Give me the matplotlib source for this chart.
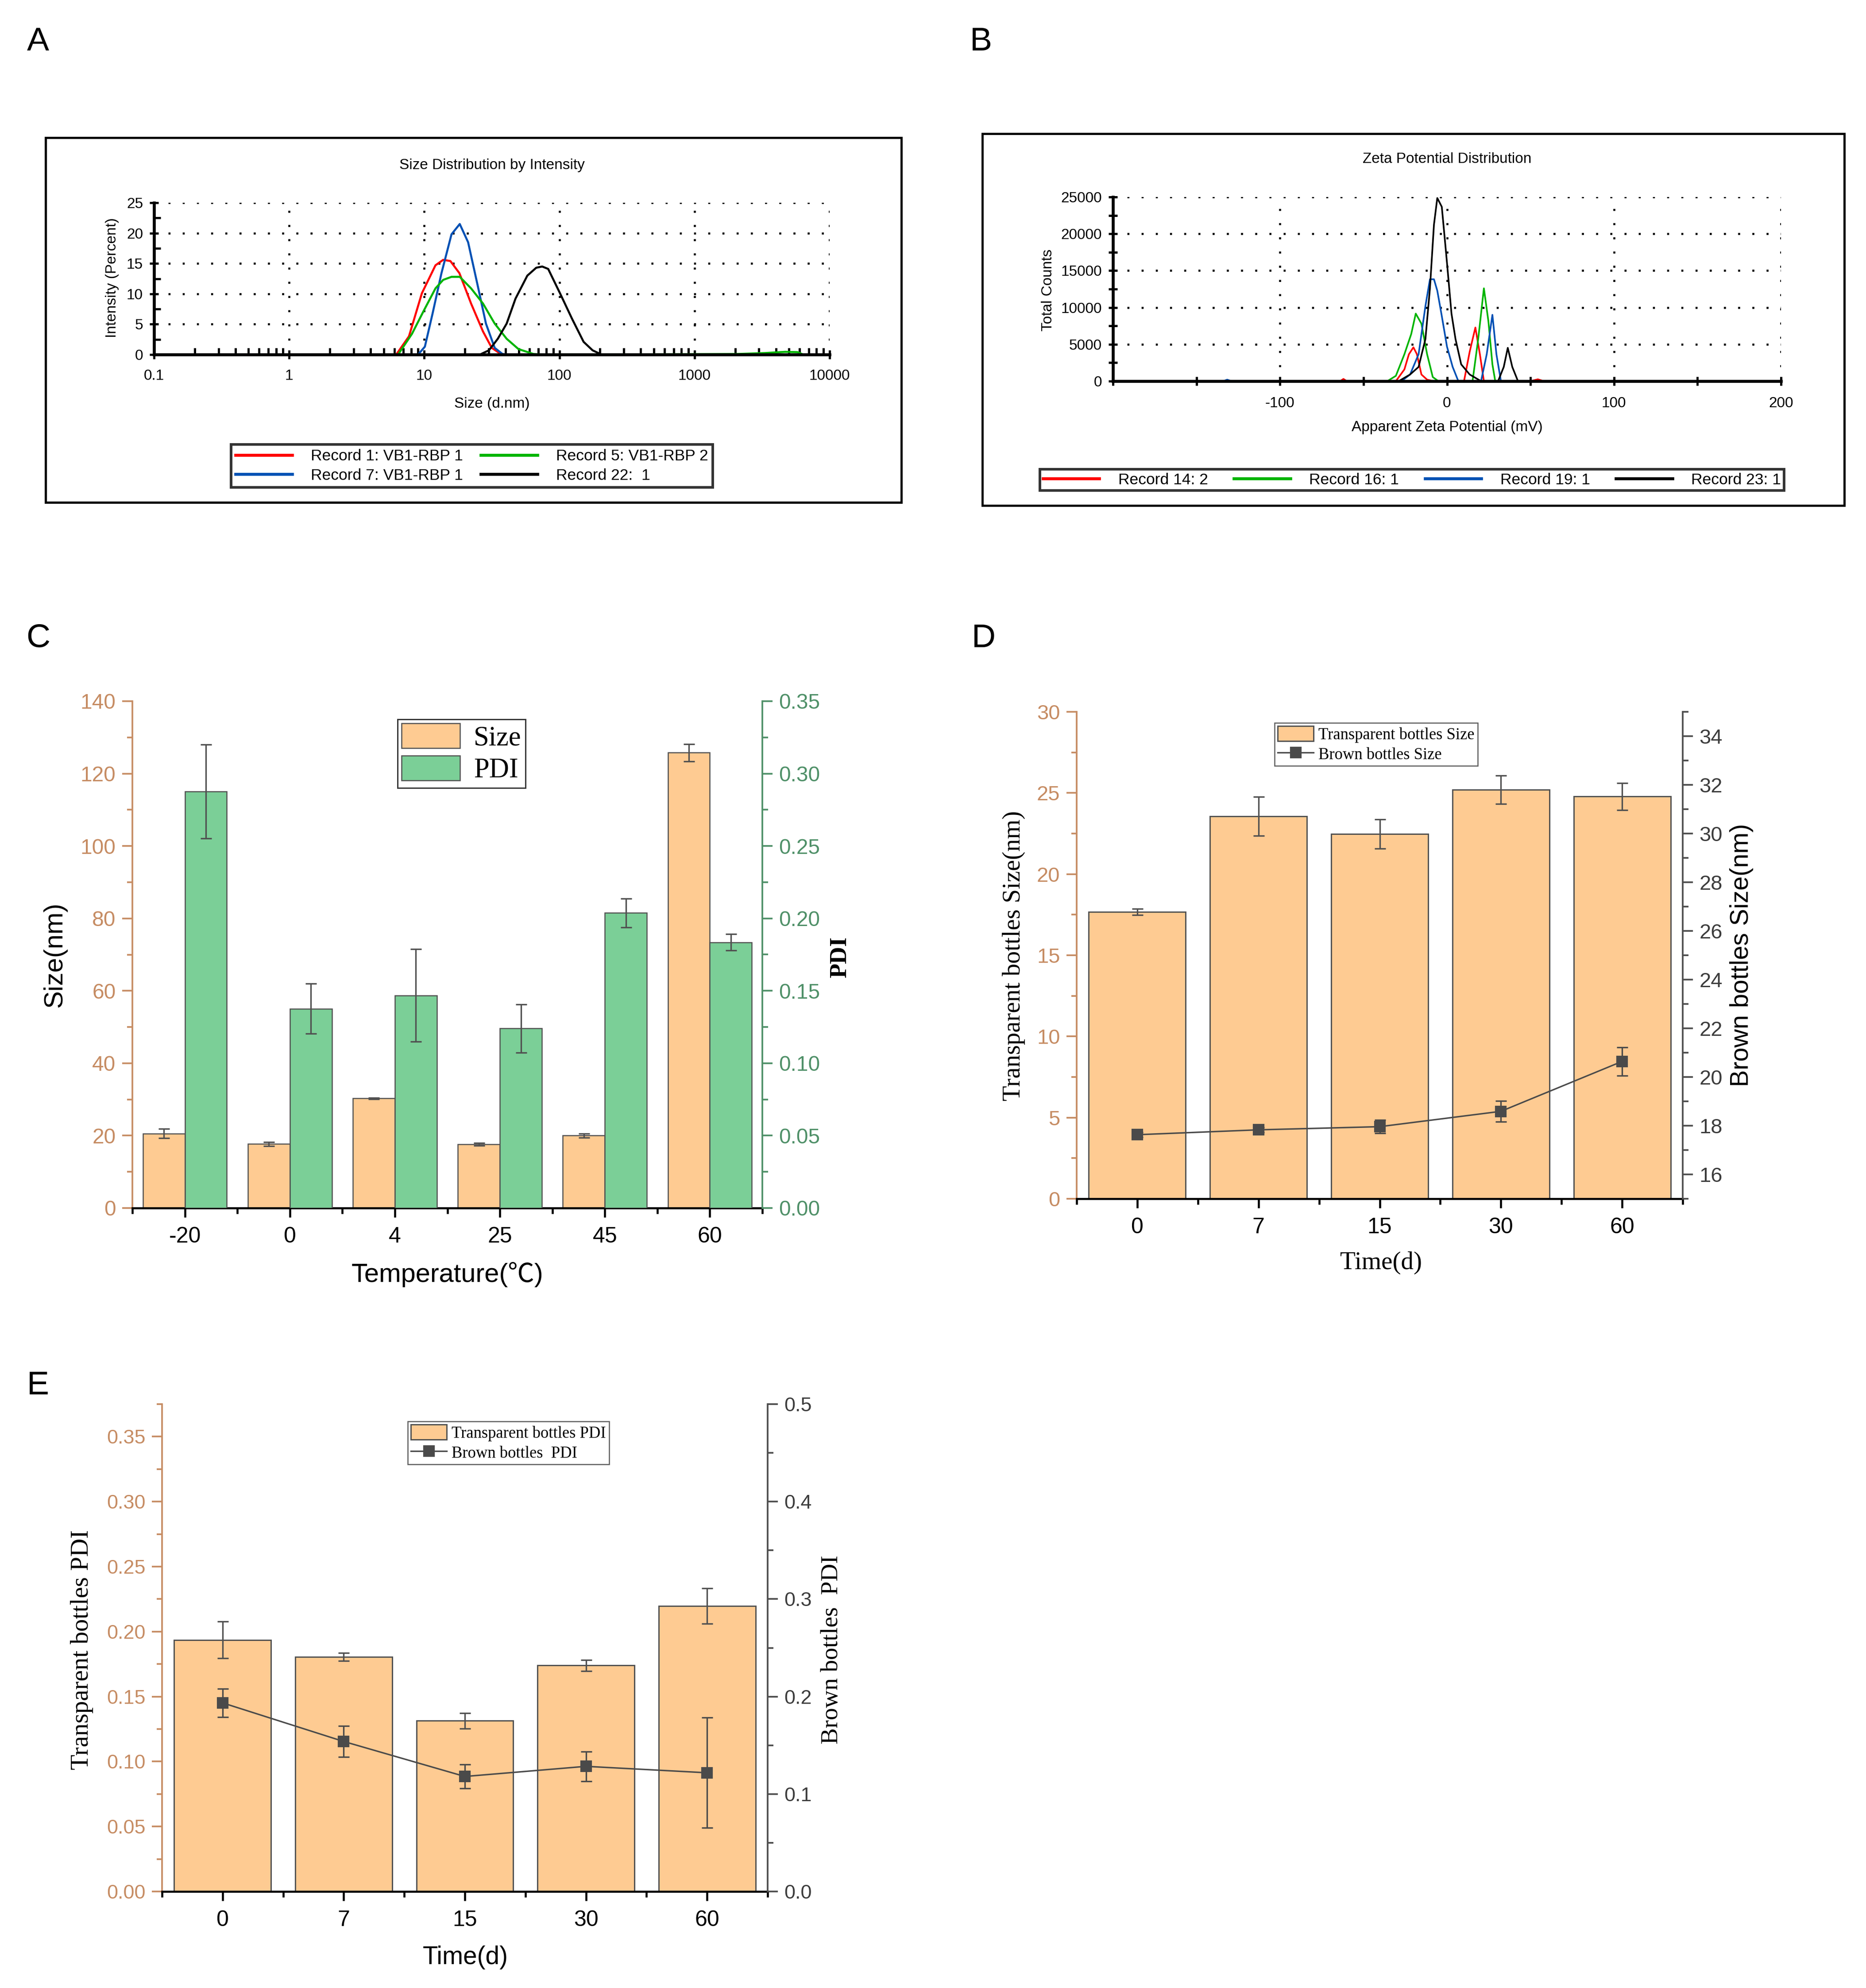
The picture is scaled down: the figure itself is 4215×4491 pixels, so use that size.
import numpy as np
import matplotlib
matplotlib.use("Agg")
import matplotlib.pyplot as plt
from matplotlib.patches import Rectangle, Patch
from matplotlib.lines import Line2D
from matplotlib.ticker import MultipleLocator, FixedLocator, FixedFormatter, LogLocator, NullFormatter

plt.rcParams['font.family'] = ['Liberation Sans', 'DejaVu Sans']
plt.rcParams['axes.unicode_minus'] = False
SANS = ['Liberation Sans', 'DejaVu Sans']
SERIF = ['Liberation Serif', 'DejaVu Serif']
DEG = ['Liberation Sans', 'Noto Sans CJK SC', 'DejaVu Sans']

ORANGE = '#FECB92'
GREEN = '#7BCF97'
EDGE = '#505050'
BROWN = '#C68C63'
DKGREEN = '#4F9068'
GRAY = '#4A4A4A'

# ---------------- A: DLS size distribution (size d.nm vs intensity %)
r1_x = [0.1, 6.2, 7.7, 9.6, 12.1, 13.8, 15.6, 18.2, 22.2, 27.2, 31.6, 36.8, 42, 10000]
r1_y = [0, 0, 3.0, 10.1, 14.7, 15.6, 15.4, 13.4, 8.4, 3.8, 1.1, 0.1, 0, 0]
r7_x = [0.1, 9.0, 10.1, 11.5, 13.4, 15.9, 18.3, 21.1, 24.6, 28.6, 33.2, 37.9, 42, 200, 10000]
r7_y = [0, 0, 1.3, 6.7, 13.4, 19.8, 21.5, 18.5, 11.8, 5.1, 1.1, 0.1, 0, 0, 0]
r5_x = [0.1, 6.4, 8.1, 9.9, 12.1, 13.8, 15.9, 18.3, 22.2, 27.2, 33.2, 40.7, 49.8, 64.2, 78.5,
        2090, 3300, 4690, 5780, 6400, 10000]
r5_y = [0, 0, 3.4, 7.2, 10.9, 12.3, 12.8, 12.8, 10.9, 8.4, 5.1, 2.6, 0.9, 0.1, 0,
        0.1, 0.25, 0.45, 0.4, 0, 0]
r22_x = [0.1, 25.8, 30.1, 35.0, 40.7, 47.3, 57.9, 67.4, 74.6, 82.6, 101, 124, 151, 176, 205, 10000]
r22_y = [0, 0, 0.7, 2.6, 5.1, 9.2, 13.0, 14.3, 14.5, 14.1, 10.1, 5.9, 2.1, 0.7, 0, 0]

# ---------------- B: zeta potential distribution (mV vs counts)
z14_x = [-200, -64, -62, -60, -30.6, -25.5, -22.8, -20.1, -18.0, -15.3, -11.9, -8,
         10.2, 13.6, 17.0, 19.7, 22.1, 50, 54.4, 58, 200]
z14_y = [0, 0, 300, 0, 0, 1590, 3650, 4590, 3650, 900, 200, 0,
         0, 4000, 7280, 3650, 0, 0, 250, 0, 0]
z16_x = [-200, -35.7, -30.6, -25.5, -21.4, -18.7, -15.3, -11.9, -8.5, -5.1,
         15.3, 18.7, 22.1, 24.8, 27.2, 28.9, 200]
z16_y = [0, 0, 720, 3650, 6400, 9170, 7800, 3650, 550, 0,
         0, 5720, 12600, 8140, 2280, 0, 0]
z19_x = [-200, -134, -131.6, -129, -27.2, -22.1, -17.0, -12.9, -10.2, -7.8, -5.8, -3.1, 0, 3.4, 6.8,
         20.4, 23.8, 27.2, 29.6, 32.3, 200]
z19_y = [0, 0, 200, 0, 0, 900, 3650, 10200, 13830, 13830, 12280, 8830, 4690, 1930, 0,
         0, 3650, 9000, 3650, 0, 0]
z23_x = [-200, -28.9, -22.1, -17.0, -12.9, -10.2, -7.8, -5.8, -3.1, 0, 2.7, 5.1, 8.5, 13.6, 20.4,
         30.6, 34.0, 36.4, 39.1, 42.5, 200]
z23_y = [0, 0, 900, 1930, 5720, 12600, 21240, 24860, 23660, 16070, 9170, 5720, 2280, 900, 0,
         0, 1930, 4520, 1930, 0, 0]

# ---------------- C: temperature stability
temps = ['-20', '0', '4', '25', '45', '60']
size_c = [20.6, 17.7, 30.3, 17.6, 20.0, 125.8]
size_c_err = [1.25, 0.55, 0.2, 0.4, 0.5, 2.4]
pdi_c = [0.2876, 0.1377, 0.1468, 0.1240, 0.2038, 0.1835]
pdi_c_err = [0.0324, 0.0173, 0.0320, 0.0167, 0.0100, 0.0056]

# ---------------- D / E: storage time
days = ['0', '7', '15', '30', '60']
size_transp = [17.67, 23.56, 22.47, 25.19, 24.78]
size_transp_err = [0.2, 1.2, 0.9, 0.87, 0.83]
size_brown = [17.63, 17.83, 17.96, 18.59, 20.64]
size_brown_err = [0.1, 0.1, 0.27, 0.42, 0.58]
pdi_transp = [0.1936, 0.1805, 0.1314, 0.1739, 0.2196]
pdi_transp_err = [0.0142, 0.003, 0.006, 0.0044, 0.0136]
pdi_brown = [0.1935, 0.1539, 0.1180, 0.1284, 0.1218]
pdi_brown_err = [0.0146, 0.016, 0.0123, 0.0152, 0.0565]

W, H = 4215, 4491
fig = plt.figure(figsize=(W / 300, H / 300), dpi=300)
fig.patch.set_facecolor('white')


def rect(l, t, r, b):
    return [l / W, 1 - b / H, (r - l) / W, (b - t) / H]


def label_at(ax, which, x, y, **kw):
    lab = ax.xaxis.label if which == 'x' else ax.yaxis.label
    (ax.xaxis if which == 'x' else ax.yaxis).set_label_coords(x, y)
    lab.set_va('center')
    lab.set_ha('center')


for txt, (px, py) in zip('ABCDE', [(86, 95), (2216, 95), (86, 1442), (2222, 1442), (86, 3131)]):
    fig.text(px / W, 1 - py / H, txt, fontsize=18, ha='center', va='center')

dots = (0, (1, 6))

# ================= A
fig.add_artist(Rectangle((103 / W, 1 - 1135 / H), 1933 / W, 824 / H, transform=fig.transFigure,
                         fill=False, edgecolor='black', lw=1.2))
axA = fig.add_axes(rect(348, 458, 1874, 801))
axA.set_xscale('log')
axA.plot(r1_x, r1_y, color='#FF0000', lw=1.1, label='Record 1: VB1-RBP 1')
axA.plot(r7_x, r7_y, color='#0050B4', lw=1.1, label='Record 7: VB1-RBP 1')
axA.plot(r5_x, r5_y, color='#00B400', lw=1.1, label='Record 5: VB1-RBP 2')
axA.plot(r22_x, r22_y, color='black', lw=1.1, label='Record 22:  1')
axA.set_xlim(0.1, 10000)
axA.set_ylim(0, 25)
axA.xaxis.set_major_locator(FixedLocator([0.1, 1, 10, 100, 1000, 10000]))
axA.xaxis.set_major_formatter(FixedFormatter(['0.1', '1', '10', '100', '1000', '10000']))
axA.xaxis.set_minor_locator(LogLocator(base=10, subs=np.arange(2, 10), numticks=20))
axA.xaxis.set_minor_formatter(NullFormatter())
axA.yaxis.set_major_locator(MultipleLocator(5))
axA.yaxis.set_minor_locator(MultipleLocator(2.5))
axA.grid(True, which='major', ls=dots, color='black', lw=1.1)
for s in ['top', 'right']:
    axA.spines[s].set_visible(False)
for s in ['left', 'bottom']:
    axA.spines[s].set_linewidth(1.6)
axA.tick_params(axis='both', which='major', direction='inout', length=5, width=1.2, labelsize=8)
axA.tick_params(axis='x', which='major', pad=5.5)
axA.tick_params(axis='both', which='minor', direction='in', length=3.5, width=1.2)
axA.set_title('Size Distribution by Intensity', fontsize=8, y=1.15)
axA.set_xlabel('Size (d.nm)', fontsize=8)
axA.set_ylabel('Intensity (Percent)', fontsize=8)
label_at(axA, 'x', 0.5, -0.324)
label_at(axA, 'y', -0.062, 0.507)
legA = fig.legend(*axA.get_legend_handles_labels(), loc='center', ncol=2,
                  bbox_to_anchor=(504 / W, 1 - 1102 / H, 1124 / W, 99 / H), mode='expand',
                  fontsize=8.5, frameon=True, fancybox=False, edgecolor='black',
                  handlelength=3.6, handletextpad=1.2, labelspacing=0.3, borderpad=0.3,
                  columnspacing=1.0)
legA.get_frame().set_linewidth(1.4)
for h in legA.get_lines():
    h.set_linewidth(1.6)

# ================= B
fig.add_artist(Rectangle((2219 / W, 1 - 1142 / H), 1947 / W, 840 / H, transform=fig.transFigure,
                         fill=False, edgecolor='black', lw=1.2))
axB = fig.add_axes(rect(2514, 445, 4023, 861))
axB.plot(z14_x, z14_y, color='#FF0000', lw=0.9, label='Record 14: 2')
axB.plot(z16_x, z16_y, color='#00B400', lw=0.9, label='Record 16: 1')
axB.plot(z19_x, z19_y, color='#0050B4', lw=0.9, label='Record 19: 1')
axB.plot(z23_x, z23_y, color='black', lw=0.9, label='Record 23: 1')
axB.set_xlim(-200, 200)
axB.set_ylim(0, 25000)
axB.xaxis.set_major_locator(FixedLocator([-100, 0, 100, 200]))
axB.xaxis.set_minor_locator(FixedLocator([-200, -150, -50, 50, 150]))
axB.yaxis.set_major_locator(MultipleLocator(5000))
axB.yaxis.set_minor_locator(MultipleLocator(2500))
axB.grid(True, which='major', ls=dots, color='black', lw=1.1)
for s in ['top', 'right']:
    axB.spines[s].set_visible(False)
for s in ['left', 'bottom']:
    axB.spines[s].set_linewidth(1.6)
axB.tick_params(axis='both', which='major', direction='inout', length=5, width=1.2, labelsize=8)
axB.tick_params(axis='x', which='major', pad=6)
axB.tick_params(axis='both', which='minor', direction='inout', length=5, width=1.2)
axB.set_title('Zeta Potential Distribution', fontsize=8, y=1.125)
axB.set_xlabel('Apparent Zeta Potential (mV)', fontsize=8)
axB.set_ylabel('Total Counts', fontsize=8)
label_at(axB, 'x', 0.5, -0.252)
label_at(axB, 'y', -0.097, 0.495)
legB = fig.legend(*axB.get_legend_handles_labels(), loc='center', ncol=4,
                  bbox_to_anchor=(2331 / W, 1 - 1110 / H, 1717 / W, 52 / H), mode='expand',
                  fontsize=8.5, frameon=True, fancybox=False, edgecolor='black',
                  handlelength=3.6, handletextpad=1.2, borderpad=0.2, columnspacing=1.0)
legB.get_frame().set_linewidth(1.4)
for h in legB.get_lines():
    h.set_linewidth(1.6)


def style_bottom(ax, n):
    ax.set_xlim(-0.5, n - 0.5)
    ax.set_xticks(np.arange(n))
    ax.xaxis.set_minor_locator(FixedLocator(np.arange(n + 1) - 0.5))
    ax.spines['bottom'].set_linewidth(1.1)
    ax.tick_params(axis='x', which='major', direction='out', length=5, width=1.1, labelsize=12, pad=5)
    ax.tick_params(axis='x', which='minor', direction='out', length=3, width=1.1)


def style_left(ax, color, labelsize):
    ax.spines['left'].set_color(color)
    ax.spines['left'].set_linewidth(0.9)
    ax.tick_params(axis='y', which='major', direction='out', length=5.5, width=0.9,
                   color=color, labelcolor=color, labelsize=labelsize)
    ax.tick_params(axis='y', which='minor', direction='out', length=3, width=0.9, color=color)


def style_right(ax, color, labelsize):
    for s in ['left', 'top', 'bottom']:
        ax.spines[s].set_visible(False)
    ax.spines['right'].set_color(color)
    ax.spines['right'].set_linewidth(0.9)
    ax.tick_params(axis='y', which='major', direction='out', length=5.5, width=0.9,
                   color=color, labelcolor=color, labelsize=labelsize)
    ax.tick_params(axis='y', which='minor', direction='out', length=3, width=0.9, color=color)


ekw = dict(ecolor=EDGE, elinewidth=0.8, capthick=0.8)

# ================= C
axC = fig.add_axes(rect(299, 1584, 1722, 2729))
xc = np.arange(len(temps))
axC.bar(xc - 0.2, size_c, 0.4, color=ORANGE, edgecolor=EDGE, lw=0.6,
        yerr=size_c_err, capsize=3, error_kw=ekw, zorder=2)
axC2 = axC.twinx()
axC2.bar(xc + 0.2, pdi_c, 0.4, color=GREEN, edgecolor=EDGE, lw=0.6,
         yerr=pdi_c_err, capsize=3, error_kw=ekw, zorder=2)
axC.set_ylim(0, 140)
axC2.set_ylim(0, 0.35)
axC.yaxis.set_major_locator(MultipleLocator(20))
axC.yaxis.set_minor_locator(MultipleLocator(10))
axC2.yaxis.set_major_locator(MultipleLocator(0.05))
axC2.yaxis.set_minor_locator(MultipleLocator(0.025))
axC2.yaxis.set_major_formatter(matplotlib.ticker.FormatStrFormatter('%.2f'))
for s in ['top', 'right']:
    axC.spines[s].set_visible(False)
style_bottom(axC, len(temps))
axC.set_xticklabels(temps)
style_left(axC, BROWN, 11.5)
style_right(axC2, DKGREEN, 11.5)
axC.set_xlabel('Temperature(\u2103)', fontsize=14.3, family=DEG)
axC.set_ylabel('Size(nm)', fontsize=14.3)
axC2.set_ylabel('PDI', fontsize=13, family=SERIF, weight='bold', rotation=90)
label_at(axC, 'x', 0.5, -0.131)
label_at(axC, 'y', -0.123, 0.5)
label_at(axC2, 'y', 1.124, 0.495)
legC = axC2.legend([Patch(facecolor=ORANGE, edgecolor=EDGE, lw=0.6),
                    Patch(facecolor=GREEN, edgecolor=EDGE, lw=0.6)], ['Size', 'PDI'],
                   loc='upper left', bbox_to_anchor=(898 / W, 1 - 1625 / H), bbox_transform=fig.transFigure,
                   prop={'family': SERIF, 'size': 15}, frameon=True, fancybox=False, edgecolor='black',
                   borderaxespad=0, handlelength=2.1, handleheight=1.0, labelspacing=0.15,
                   borderpad=0.15, handletextpad=0.5)
legC.get_frame().set_linewidth(0.7)


def time_panel(pos, bars, bars_err, pts, pts_err, lylim, lmaj, lmin, lfmt, rylim, rmaj, rmin, rfmt,
               leg_xy, bar_lab, pt_lab):
    ax = fig.add_axes(pos)
    xd = np.arange(len(days))
    ax.bar(xd, bars, 0.8, color=ORANGE, edgecolor=EDGE, lw=0.7,
           yerr=bars_err, capsize=3, error_kw=ekw, zorder=2)
    ax2 = ax.twinx()
    ax2.errorbar(xd, pts, yerr=pts_err, color=GRAY, lw=0.8, marker='s', ms=5.5,
                 capsize=3, ecolor=GRAY, elinewidth=0.8, capthick=0.8, zorder=3)
    ax.set_ylim(*lylim)
    ax2.set_ylim(*rylim)
    ax.yaxis.set_major_locator(lmaj)
    ax.yaxis.set_minor_locator(MultipleLocator(lmin))
    ax.yaxis.set_major_formatter(matplotlib.ticker.FormatStrFormatter(lfmt))
    ax2.yaxis.set_major_locator(rmaj)
    ax2.yaxis.set_minor_locator(MultipleLocator(rmin))
    ax2.yaxis.set_major_formatter(matplotlib.ticker.FormatStrFormatter(rfmt))
    for s in ['top', 'right']:
        ax.spines[s].set_visible(False)
    style_bottom(ax, len(days))
    ax.set_xticklabels(days)
    style_left(ax, BROWN, 11.3)
    style_right(ax2, '#4D4D4D', 11.3)
    ax2.tick_params(axis='y', labelcolor='#3C3C3C')
    leg = ax2.legend([Patch(facecolor=ORANGE, edgecolor=EDGE, lw=0.7),
                      Line2D([], [], color=GRAY, lw=0.8, marker='s', ms=5.5)], [bar_lab, pt_lab],
                     loc='upper left', bbox_to_anchor=leg_xy, bbox_transform=fig.transFigure,
                     prop={'family': SERIF, 'size': 8.8}, frameon=True, fancybox=False,
                     edgecolor='#333333', borderaxespad=0, handlelength=2.2, handleheight=1.05,
                     labelspacing=0.2, borderpad=0.2, handletextpad=0.3)
    leg.get_frame().set_linewidth(0.6)
    return ax, ax2


# ================= D
axD, axD2 = time_panel(rect(2432, 1608, 3801, 2708), size_transp, size_transp_err, size_brown, size_brown_err,
                       (0, 30), MultipleLocator(5), 2.5, '%d', (15, 35), FixedLocator(np.arange(16, 35, 2)), 1, '%d',
                       (2879 / W, 1 - 1633 / H), 'Transparent bottles Size', 'Brown bottles Size')
axD.set_xlabel('Time(d)', fontsize=13.7, family=SERIF)
axD.set_ylabel('Transparent bottles Size(nm)', fontsize=13.6, family=SERIF)
axD2.set_ylabel('Brown bottles Size(nm)', fontsize=13.8, rotation=90)
label_at(axD, 'x', 0.502, -0.132)
label_at(axD, 'y', -0.104, 0.499)
label_at(axD2, 'y', 1.097, 0.5)

# ================= E
axE, axE2 = time_panel(rect(366, 3172, 1734, 4273), pdi_transp, pdi_transp_err, pdi_brown, pdi_brown_err,
                       (0, 0.375), FixedLocator(np.arange(0, 0.36, 0.05)), 0.025, '%.2f',
                       (0, 0.5), MultipleLocator(0.1), 0.05, '%.1f',
                       (921 / W, 1 - 3211 / H), 'Transparent bottles PDI', 'Brown bottles  PDI')
axE.tick_params(axis='y', labelsize=10.8)
axE2.tick_params(axis='y', labelsize=10.8)
axE.set_xlabel('Time(d)', fontsize=13.6)
axE.set_ylabel('Transparent bottles PDI', fontsize=13.7, family=SERIF)
axE2.set_ylabel('Brown bottles  PDI', fontsize=13.2, family=SERIF, rotation=90)
label_at(axE, 'x', 0.501, -0.135)
label_at(axE, 'y', -0.132, 0.496)
label_at(axE2, 'y', 1.106, 0.496)

fig.savefig('out.png', dpi=300, facecolor='white')
